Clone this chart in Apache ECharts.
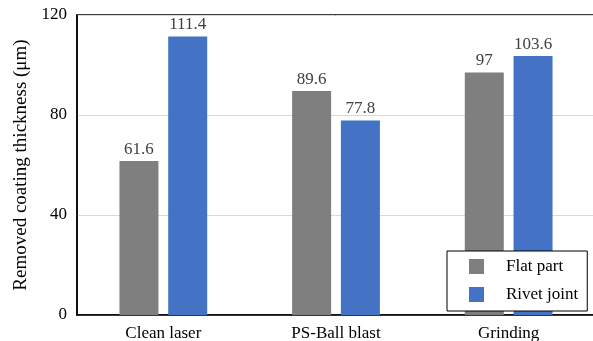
<!DOCTYPE html>
<html>
<head>
<meta charset="utf-8">
<script src="https://cdn.jsdelivr.net/npm/echarts@6/dist/echarts.min.js"></script>
<style>
  html, body { margin: 0; padding: 0; background: #fff; }
  #chart { width: 593px; height: 341px; }
</style>
</head>
<body>
<div id="chart"></div>
<script>
const categories = ['Clean laser', 'PS-Ball blast', 'Grinding'];
const flatPart = [61.6, 89.6, 97];
const rivetJoint = [111.4, 77.8, 103.6];
const yTicks = [0, 40, 80, 120];

const font = 'Liberation Serif';
const chart = echarts.init(document.getElementById('chart'));

const labelStyle = {
  show: true,
  position: 'top',
  distance: 3,
  color: '#404040',
  fontFamily: font,
  fontSize: 17,
};

const option = {
  animation: false,
  textStyle: {fontFamily: font},
  grid: {
    left: 77,
    top: 15,
    width: 518,
    bottom: 26,
    outerBoundsMode: 'none',
    show: true,
    borderColor: '#000',
    borderWidth: 1.5,
  },
  legend: {
    orient: 'vertical',
    left: 447,
    top: 251,
    padding: [7, 9, 8, 22],
    itemGap: 11,
    itemWidth: 15,
    itemHeight: 15,
    icon: 'rect',
    backgroundColor: '#fff',
    borderColor: '#000',
    borderWidth: 1,
    borderRadius: 0,
    textStyle: {
      fontFamily: font,
      fontSize: 17,
      color: '#000',
      padding: [0, 0, 0, 17],
    },
    data: ['Flat part', 'Rivet joint'],
  },
  xAxis: {
    type: 'category',
    data: categories,
    axisTick: {show: false},
    axisLine: {lineStyle: {color: '#000', width: 1.5}},
    axisLabel: {
      color: '#000',
      fontFamily: font,
      fontSize: 17,
      margin: 10,
    },
  },
  yAxis: {
    type: 'value',
    min: yTicks[0],
    max: yTicks[yTicks.length - 1],
    interval: 40,
    name: 'Removed coating thickness (μm)',
    nameLocation: 'middle',
    nameGap: 44,
    nameTextStyle: {
      color: '#000',
      fontFamily: font,
      fontSize: 19,
    },
    axisLine: {show: true, lineStyle: {color: '#000', width: 1.5}},
    axisTick: {show: false},
    axisLabel: {
      color: '#000',
      fontFamily: font,
      fontSize: 17,
      margin: 10,
    },
    splitLine: {lineStyle: {color: '#d9d9d9', width: 1}},
  },
  series: [
    {
      name: 'Flat part',
      type: 'bar',
      data: flatPart,
      barWidth: 39,
      barGap: '25%',
      itemStyle: {color: '#7f7f7f'},
      label: labelStyle,
    },
    {
      name: 'Rivet joint',
      type: 'bar',
      data: rivetJoint,
      barWidth: 39,
      barGap: '25%',
      itemStyle: {color: '#4472c4'},
      label: labelStyle,
    },
  ],
};

chart.setOption(option);
</script>
</body>
</html>
